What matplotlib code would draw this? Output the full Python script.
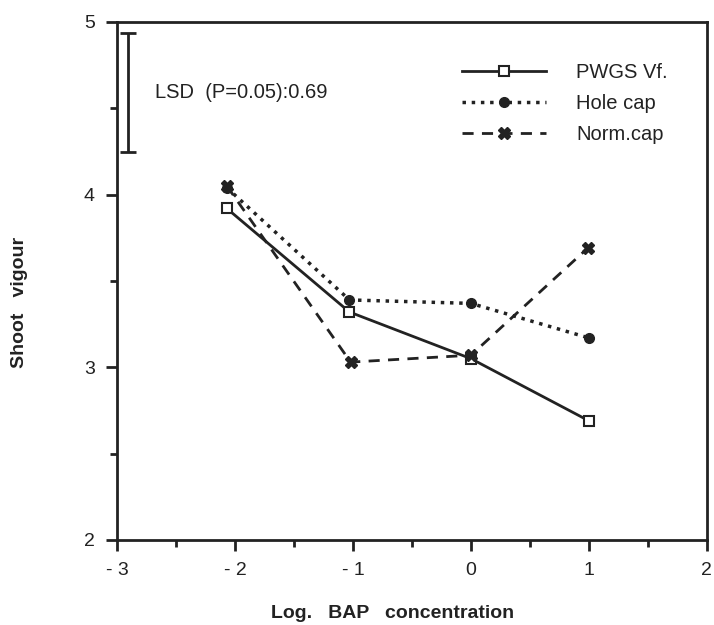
import matplotlib.pyplot as plt

plt.rcParams['font.family'] = ['Liberation Sans', 'DejaVu Sans']

# log BAP concentration
x_pwgs = [-2.07, -1.03, 0.0, 1.0]
x_hole = [-2.07, -1.03, 0.0, 1.0]
x_norm = [-2.07, -1.02, 0.0, 0.99]

pwgs = [3.92, 3.32, 3.05, 2.69]
hole = [4.04, 3.39, 3.37, 3.17]
norm = [4.05, 3.03, 3.07, 3.69]

labels = ['PWGS Vf.', 'Hole cap', 'Norm.cap']
lsd = 0.69
lsd_x = -2.91
lsd_center = 4.59

xticks = [-3, -2, -1, 0, 1, 2]
xticklabels = ['- 3', '- 2', '- 1', '0', '1', '2']
yticks = [2, 3, 4, 5]

ink = '#222222'

fig = plt.figure(figsize=(7.14, 6.25), dpi=100)
ax = fig.add_axes([0.164, 0.136, 0.826, 0.829])

ax.plot(x_pwgs, pwgs, '-', color=ink, lw=2, marker='s', ms=7,
        mfc='white', mec=ink, mew=1.5, label=labels[0])
ax.plot(x_hole, hole, ':', color=ink, lw=2.5, marker='o', ms=7,
        mfc=ink, mec=ink, label=labels[1])
ax.plot(x_norm, norm, '--', color=ink, lw=2, dashes=(4, 3), marker='X', ms=9,
        mfc=ink, mec=ink, label=labels[2])

# LSD bar
ax.errorbar([lsd_x], [lsd_center], yerr=lsd / 2, fmt='none', ecolor=ink,
            elinewidth=2, capsize=6, capthick=2)
ax.text(-2.68, lsd_center, 'LSD  (P=0.05):0.69', fontsize=14.5, va='center', color=ink)

ax.set_xlim(-3, 2)
ax.set_ylim(2, 5)
ax.set_xticks(xticks)
ax.set_xticklabels(xticklabels, fontsize=14)
ax.set_xticks([-2.5, -1.5, -0.5, 0.5, 1.5], minor=True)
ax.set_yticks(yticks)
ax.set_yticklabels([str(v) for v in yticks], fontsize=14)
ax.set_yticks([2.5, 3.5, 4.5], minor=True)
ax.tick_params(which='major', length=8, width=2, color=ink, labelcolor=ink)
ax.tick_params(axis='x', which='major', pad=8)
ax.tick_params(axis='y', which='major', pad=8)
ax.tick_params(which='minor', length=5, width=2, color=ink)
for s in ax.spines.values():
    s.set_linewidth(2)
    s.set_color(ink)

fig.text(0.55, 1 - 613 / 625, 'Log.   BAP   concentration', fontsize=14,
         fontweight='bold', ha='center', va='center', color=ink)
fig.text(20 / 714, 1 - 302 / 625, 'Shoot   vigour', fontsize=14, fontweight='bold',
         rotation=90, ha='center', va='center', color=ink)

leg = ax.legend(loc='upper right', bbox_to_anchor=(0.965, 0.955), frameon=False,
                fontsize=14.5, handlelength=4.2, labelspacing=0.6, handletextpad=1.5)
for t in leg.get_texts():
    t.set_color(ink)

fig.savefig('out.png', dpi=100)
